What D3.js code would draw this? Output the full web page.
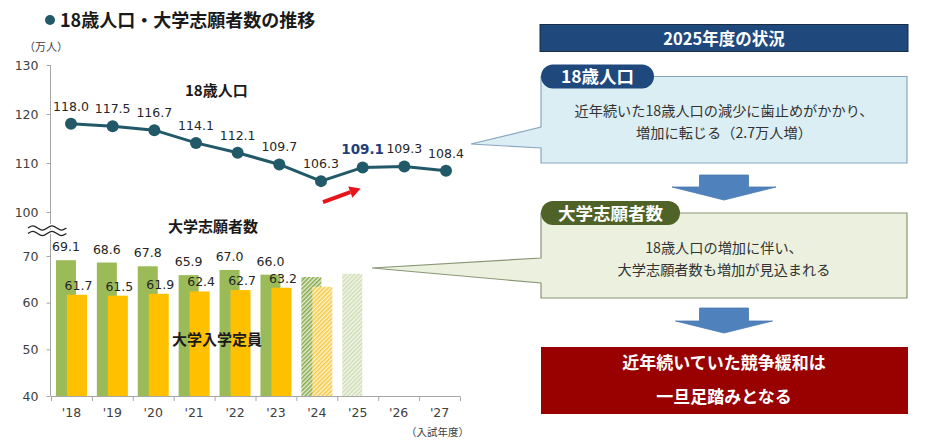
<!DOCTYPE html>
<html><head><meta charset="utf-8">
<script src="https://cdn.jsdelivr.net/npm/d3@7"></script>
<style>
html,body{margin:0;padding:0;background:#fff;}
svg{display:block;}
</style></head>
<body>
<svg id="c" width="934" height="443"></svg>
<script>
// ---- data ----
const years = ["'18","'19","'20","'21","'22","'23","'24","'25","'26","'27"];
const pop18 = [118.0,117.5,116.7,114.1,112.1,109.7,106.3,109.1,109.3,108.4];
const applicants = [69.1,68.6,67.8,65.9,67.0,66.0,65.5,66.2];
const capacity = [61.7,61.5,61.9,62.4,62.7,63.2,63.4];
const projectedFrom = 6; // '24 onward drawn hatched, no labels
const upperTicks = [100,110,120,130];
const lowerTicks = [40,50,60,70];
const highlightYear = "'25";

const title = "18歳人口・大学志願者数の推移";
const unitLabel = "（万人）";
const xTitle = "（入試年度）";
const popLabel = "18歳人口";
const appLabel = "大学志願者数";
const capLabel = "大学入学定員";
const headerText = "2025年度の状況";
const tag1 = "18歳人口";
const box1Lines = ["近年続いた18歳人口の減少に歯止めがかかり、","増加に転じる（2.7万人増）"];
const tag2 = "大学志願者数";
const box2Lines = ["18歳人口の増加に伴い、","大学志願者数も増加が見込まれる"];
const resultLines = ["近年続いていた競争緩和は","一旦足踏みとなる"];

const JP = "'Noto Sans CJK JP','Noto Sans',sans-serif";
const NUM = "'DejaVu Sans',sans-serif";

const svg = d3.select("#c");
const defs = svg.append("defs");
function hatch(id, color, bg){
  const p = defs.append("pattern").attr("id",id).attr("patternUnits","userSpaceOnUse")
    .attr("width",3).attr("height",3).attr("patternTransform","rotate(45)");
  p.append("rect").attr("width",3).attr("height",3).attr("fill",bg);
  p.append("line").attr("x1",0.75).attr("x2",0.75).attr("y1",0).attr("y2",3)
    .attr("stroke",color).attr("stroke-width",1.5);
}
hatch("hG","#86a84a","#e3ecd2");
hatch("hO","#f5c842","#fdf3cf");
hatch("hG2","#cddbb0","#f4f7ee");

// ---- scales ----
const yTop = d3.scaleLinear().domain([100,130]).range([212,65]);
const yBot = d3.scaleLinear().domain([40,70]).range([396,256]);
const xBand = d3.scaleBand().domain(years).range([51,460]);
const xLine = d3.scalePoint().domain(years).range([71,446]);
const bw = xBand.bandwidth();
const barW = 20;

// ---- title ----
svg.append("circle").attr("cx",50).attr("cy",20).attr("r",5).attr("fill","#215968");
svg.append("text").attr("x",60).attr("y",27).attr("font-family",JP).attr("font-weight","bold")
  .attr("font-size",18).attr("fill","#1a1a1a").text(title);
svg.append("text").attr("x",24).attr("y",51).attr("font-family",JP).attr("font-size",11)
  .attr("fill","#404040").text(unitLabel);

// ---- axes ----
const axisCol = "#a6a6a6";
svg.append("line").attr("x1",50.5).attr("x2",50.5).attr("y1",yTop(130)).attr("y2",yBot(40))
  .attr("stroke",axisCol);
const gT = svg.append("g").attr("transform","translate(50.5,0)")
  .call(d3.axisLeft(yTop).tickValues(upperTicks).tickSize(4).tickPadding(8).tickFormat(d3.format("d")));
const gB = svg.append("g").attr("transform","translate(50.5,0)")
  .call(d3.axisLeft(yBot).tickValues(lowerTicks).tickSize(4).tickPadding(8).tickFormat(d3.format("d")));
[gT,gB].forEach(g=>{
  g.select(".domain").remove();
  g.selectAll("line").attr("stroke",axisCol);
  g.selectAll("text").attr("font-family",NUM).attr("font-size",12.5).attr("fill","#404040");
});

// break mark
const wave = d3.line().curve(d3.curveBasis);
[228,233.5].forEach(yy=>{
  const pts = d3.range(0,9).map(i=>[28+i*4.8, yy + (i%2===0?0:(i%4===1?-3.2:3.2))]);
  svg.append("path").attr("d",wave(pts)).attr("fill","none").attr("stroke","#fff").attr("stroke-width",4);
  svg.append("path").attr("d",wave(pts)).attr("fill","none").attr("stroke","#222").attr("stroke-width",1.4);
});

// bottom axis
svg.append("line").attr("x1",xBand.range()[0]).attr("x2",xBand.range()[1])
  .attr("y1",396.5).attr("y2",396.5).attr("stroke",axisCol);
const bounds = years.map(d=>xBand(d)).concat([xBand.range()[1]]);
svg.selectAll(".xt").data(bounds).join("line").attr("x1",d=>d+0.5).attr("x2",d=>d+0.5)
  .attr("y1",396.5).attr("y2",401).attr("stroke",axisCol);
svg.selectAll(".xl").data(years).join("text")
  .attr("x",d=>xBand(d)+bw/2).attr("y",417).attr("text-anchor","middle")
  .attr("font-family",NUM).attr("font-size",12.5).attr("fill","#404040").text(d=>d);
svg.append("text").attr("x",469).attr("y",436).attr("text-anchor","end")
  .attr("font-family",JP).attr("font-size",10.5).attr("fill","#404040").text(xTitle);

// ---- bars ----
const cx = i => xBand(years[i]) + bw/2;
applicants.forEach((v,i)=>{
  const fill = i<projectedFrom ? "#9bbb59" : (i===projectedFrom ? "url(#hG)" : "url(#hG2)");
  svg.append("rect").attr("x",cx(i)-5.5-barW/2).attr("y",yBot(v)).attr("width",barW)
    .attr("height",yBot(40)-yBot(v)).attr("fill",fill);
  if(i<capacity.length){
    const c = capacity[i];
    svg.append("rect").attr("x",cx(i)+5.5-barW/2).attr("y",yBot(c)).attr("width",barW)
      .attr("height",yBot(40)-yBot(c)).attr("fill", i<projectedFrom ? "#ffc000" : "url(#hO)");
  }
});
applicants.forEach((v,i)=>{
  if(i>=projectedFrom) return;
  svg.append("text").attr("x",cx(i)-5.5).attr("y",yBot(v)-9).attr("text-anchor","middle")
    .attr("font-family",NUM).attr("font-size",12.5).attr("fill","#262626").text(d3.format(".1f")(v));
  svg.append("text").attr("x",cx(i)+7).attr("y",yBot(capacity[i])-5).attr("text-anchor","middle")
    .attr("font-family",NUM).attr("font-size",12.5).attr("fill","#262626").text(d3.format(".1f")(capacity[i]));
});

// ---- line ----
const lineCol = "#215968";
svg.append("path").datum(pop18)
  .attr("d", d3.line().x((d,i)=>xLine(years[i])).y(d=>yTop(d)))
  .attr("fill","none").attr("stroke",lineCol).attr("stroke-width",3);
svg.selectAll(".pt").data(pop18).join("circle")
  .attr("cx",(d,i)=>xLine(years[i])).attr("cy",d=>yTop(d)).attr("r",6).attr("fill",lineCol);
svg.selectAll(".pl").data(pop18).join("text")
  .attr("x",(d,i)=>xLine(years[i])).attr("y",d=>yTop(d)-13).attr("text-anchor","middle")
  .attr("font-family",NUM)
  .attr("font-size",(d,i)=>years[i]===highlightYear?13.5:12.5)
  .attr("font-weight",(d,i)=>years[i]===highlightYear?"bold":"normal")
  .attr("fill",(d,i)=>years[i]===highlightYear?"#1f3f7a":"#262626")
  .text(d=>d3.format(".1f")(d));

// red arrow
const hx = xLine(highlightYear), lx = xLine("'24");
const a0 = [lx+2, yTop(106.3)+21], a1 = [hx-2, yTop(109.1)+21];
const ang = Math.atan2(a1[1]-a0[1], a1[0]-a0[0]);
const shaftEnd = [a1[0]-11*Math.cos(ang), a1[1]-11*Math.sin(ang)];
svg.append("line").attr("x1",a0[0]).attr("y1",a0[1]).attr("x2",shaftEnd[0]).attr("y2",shaftEnd[1])
  .attr("stroke","#e8141b").attr("stroke-width",4);
const perp = ang+Math.PI/2;
svg.append("path").attr("fill","#e8141b").attr("d", d3.line()([
  a1,
  [shaftEnd[0]+6*Math.cos(perp), shaftEnd[1]+6*Math.sin(perp)],
  [shaftEnd[0]-6*Math.cos(perp), shaftEnd[1]-6*Math.sin(perp)]
])+"Z");

// series labels
svg.append("text").attr("x",185).attr("y",96).attr("font-family",JP).attr("font-weight","bold")
  .attr("font-size",15).attr("fill","#1a1a1a").text(popLabel);
svg.append("text").attr("x",168).attr("y",232).attr("font-family",JP).attr("font-weight","bold")
  .attr("font-size",15).attr("fill","#1a1a1a").text(appLabel);
svg.append("text").attr("x",172).attr("y",345).attr("font-family",JP).attr("font-weight","bold")
  .attr("font-size",15).attr("fill","#1a1a1a").text(capLabel);

// ---- right panel ----
const L = 541, R = 907, CX = (L+R)/2;
svg.append("rect").attr("x",540).attr("y",24.5).attr("width",368).attr("height",27)
  .attr("fill","#1f497d").attr("stroke","#1a2c44");
svg.append("text").attr("x",CX).attr("y",44.5).attr("text-anchor","middle").attr("font-family",JP)
  .attr("font-weight","bold").attr("font-size",16.5).attr("fill","#fff").text(headerText);

function callout(top, bottom, tip, a1y, a2y, fill, stroke, tagText, tagFill, tagW, lines, ly){
  svg.append("path").attr("d",
    `M${L},${top} H${R} V${bottom} H${L} V${a2y} L${tip[0]},${tip[1]} L${L},${a1y} Z`)
    .attr("fill",fill).attr("stroke",stroke).attr("stroke-width",1.2);
  svg.append("rect").attr("x",L).attr("y",top-12).attr("width",tagW).attr("height",24)
    .attr("rx",12).attr("fill",tagFill);
  svg.append("text").attr("x",L+tagW/2).attr("y",top+6.5).attr("text-anchor","middle")
    .attr("font-family",JP).attr("font-weight","bold").attr("font-size",17.5).attr("fill","#fff").text(tagText);
  lines.forEach((t,i)=>svg.append("text").attr("x",CX).attr("y",ly[i]).attr("text-anchor","middle")
    .attr("font-family",JP).attr("font-size",14.2).attr("fill","#333").text(t));
}
callout(76.5,163,[471,144],127,148,"#dbeef4","#8aa6bf",tag1,"#1f497d",113,box1Lines,[116,138]);
callout(213,298,[372,268],258,283,"#ebf1de","#8a9676",tag2,"#4f6228",139,box2Lines,[253,275]);

function downArrow(top, hw, sw, sh, h, c){
  svg.append("path").attr("d",
    `M${c-sw/2},${top} H${c+sw/2} V${top+sh} H${c+hw/2} L${c},${top+h} L${c-hw/2},${top+sh} H${c-sw/2} Z`)
    .attr("fill","#4f81bd").attr("stroke","#4a78b0").attr("stroke-width",0.8);
}
downArrow(175,104,49,12,25,724);
downArrow(308,97,49,13,25,724);

svg.append("rect").attr("x",541).attr("y",347).attr("width",367).attr("height",67).attr("fill","#990000");
resultLines.forEach((t,i)=>svg.append("text").attr("x",CX).attr("y",[369,403][i]).attr("text-anchor","middle")
  .attr("font-family",JP).attr("font-weight","bold").attr("font-size",17).attr("fill","#fff").text(t));
</script>
</body></html>
